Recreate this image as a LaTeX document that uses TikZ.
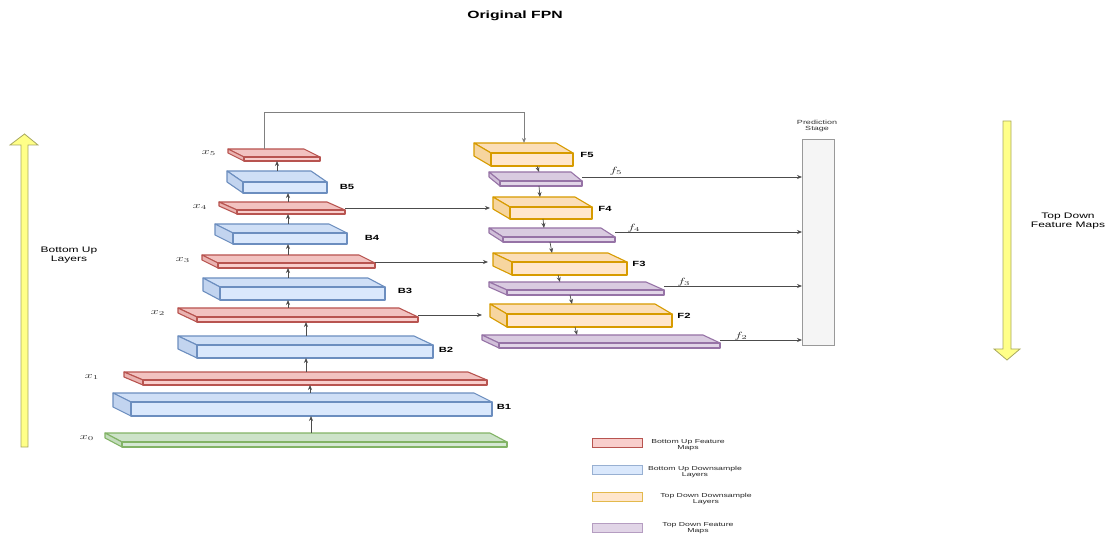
\documentclass[tikz,border=0pt]{standalone}
\usepackage{fontspec}
\setmainfont{Liberation Sans}
\newfontfamily\widesans[FakeStretch=1.5]{Liberation Sans}
\usetikzlibrary{arrows.meta,calc}

\definecolor{redF}{HTML}{F8CECC}\definecolor{redD}{HTML}{B85450}
\definecolor{bluF}{HTML}{DAE8FC}\definecolor{bluD}{HTML}{6C8EBF}
\definecolor{orgF}{HTML}{FFE6CC}\definecolor{orgD}{HTML}{D79B00}
\definecolor{purF}{HTML}{E1D5E7}\definecolor{purD}{HTML}{9673A6}
\definecolor{grnF}{HTML}{D5E8D4}\definecolor{grnD}{HTML}{82B366}
\definecolor{yelF}{HTML}{FFFF88}\definecolor{yelD}{HTML}{A8A860}

\newcommand\wmath[1]{\scalebox{1.5}[1]{$#1$}}

\tikzset{
  slabline/.style={line width=1.1pt, line join=round},
  arr/.style={draw=black!70, line width=0.7pt, -{Stealth[length=5pt,width=4pt]}},
  skip/.style={draw=black!50, line width=0.9pt, -{Stealth[length=5pt,width=4pt]}},
  blabel/.style={font=\widesans\bfseries\fontsize{7.5}{8}\selectfont},
  mlabel/.style={font=\fontsize{9}{10}\selectfont, text=black!80},
  side/.style={font=\widesans\fontsize{8}{9}\selectfont, align=center},
  legtext/.style={font=\widesans\fontsize{5.8}{6.6}\selectfont, align=center, text=black!85},
  legbox/.style={line width=0.7pt, minimum width=50pt, minimum height=9pt, inner sep=0pt, anchor=north west},
  bigarrow/.style={fill=yelF, draw=yelD, line width=0.8pt, line join=miter},
}

% \slab{name}{x left}{x right}{y top}{y bottom}{depth x}{depth y}{colour}
% front face is the named node; the top and left faces recede up-left
\newcommand\slab[8]{%
  \filldraw[slabline, draw=#8D, fill=#8F!90!#8D]
    (#2-#6,#4-#7) -- (#3-#6,#4-#7) -- (#3,#4) -- (#2,#4) -- cycle;
  \filldraw[slabline, draw=#8D, fill=#8F!78!#8D]
    (#2-#6,#4-#7) -- (#2,#4) -- (#2,#5) -- (#2-#6,#5-#7) -- cycle;
  \node[slabline, draw=#8D, fill=#8F, anchor=north west, inner sep=0pt, outer sep=0pt,
        minimum width={(#3-#2)*1pt}, minimum height={(#5-#4)*1pt}] (#1) at (#2,#4) {};
}

\begin{document}
\begin{tikzpicture}[x=1pt,y=-1pt]
\useasboundingbox (0,0) rectangle (1114,537);

\node[font=\widesans\bfseries\fontsize{10.5}{12}\selectfont] (title) at (515,16) {Original FPN};

% direction arrows
\filldraw[bigarrow] (21,447) -- (21,145) -- (10,145) -- (24.5,134) -- (38,145) -- (28,145) -- (28,447) -- cycle;
\node[side] (bulbl) at (69,255.5) {Bottom Up\\Layers};
\filldraw[bigarrow] (1003,121) -- (1003,349) -- (994,349) -- (1007,360) -- (1020,349) -- (1011,349) -- (1011,121) -- cycle;
\node[side] (tdlbl) at (1068,221.5) {Top Down\\Feature Maps};

% bottom-up pathway
\slab{x0}{122}{507}{442}{447}{17}{9}{grn}
\slab{B1}{131}{492}{402}{416}{18}{9}{blu}
\slab{x1}{143}{487}{380}{385}{19}{8}{red}
\slab{B2}{197}{433}{345}{358}{19}{9}{blu}
\slab{x2}{197}{418}{317}{322}{19}{9}{red}
\slab{B3}{220}{385}{287}{300}{17}{9}{blu}
\slab{x3}{218}{375}{263}{268}{16}{8}{red}
\slab{B4}{233}{347}{233}{244}{18}{9}{blu}
\slab{x4}{237}{345}{210}{214}{18}{8}{red}
\slab{B5}{243}{327}{182}{193}{16}{11}{blu}
\slab{x5}{244}{320}{157}{161}{16}{8}{red}

% top-down pathway
\slab{F5}{491}{573}{153}{166}{17}{10}{org}
\slab{P5}{500}{582}{181}{186}{11}{9}{pur}
\slab{F4}{510}{592}{207}{219}{17}{10}{org}
\slab{P4}{503}{615}{237}{242}{14}{9}{pur}
\slab{F3}{512}{627}{262}{275}{19}{9}{org}
\slab{P3}{507}{664}{290}{295}{18}{8}{pur}
\slab{F2}{507}{672}{314}{327}{17}{10}{org}
\slab{P2}{499}{720}{343}{348}{17}{8}{pur}

% prediction stage
\node[draw=black!40, fill=black!4, line width=0.6pt, minimum width=32pt, minimum height=206pt,
      inner sep=0pt, anchor=north west] (pred) at (802,139) {};
\node[font=\widesans\fontsize{6}{6.5}\selectfont, align=center, text=black!80] (predlbl) at (817,126) {Prediction\\Stage};

% labels
\node[mlabel] (lx5) at (209,153) {\wmath{x_5}};
\node[mlabel] (lx4) at (200,207) {\wmath{x_4}};
\node[mlabel] (lx3) at (183,260) {\wmath{x_3}};
\node[mlabel] (lx2) at (158,313) {\wmath{x_2}};
\node[mlabel] (lx1) at (92,377) {\wmath{x_1}};
\node[mlabel] (lx0) at (87,438) {\wmath{x_0}};
\node[blabel] (lB5) at (347,187) {B5};
\node[blabel] (lB4) at (372,238) {B4};
\node[blabel] (lB3) at (405,291) {B3};
\node[blabel] (lB2) at (446,350) {B2};
\node[blabel] (lB1) at (504,407) {B1};
\node[blabel] (lF5) at (587,155) {F5};
\node[blabel] (lF4) at (605,209) {F4};
\node[blabel] (lF3) at (639,264) {F3};
\node[blabel] (lF2) at (684,316) {F2};

% bottom-up arrows
\coordinate (c1) at (311,0);
\coordinate (c2) at (310,0);
\coordinate (c3) at (306,0);
\coordinate (c4) at (288,0);
\coordinate (c5) at (277,0);
\draw[arr] (x0.north -| c1) ++(0,-9) -- (B1.south -| c1);
\draw[arr] (B1.north -| c2) ++(0,-9) -- (x1.south -| c2);
\draw[arr] (x1.north -| c3) ++(0,-8) -- (B2.south -| c3);
\draw[arr] (B2.north -| c3) ++(0,-9) -- (x2.south -| c3);
\draw[arr] (x2.north -| c4) ++(0,-9) -- (B3.south -| c4);
\draw[arr] (B3.north -| c4) ++(0,-9) -- (x3.south -| c4);
\draw[arr] (x3.north -| c4) ++(0,-8) -- (B4.south -| c4);
\draw[arr] (B4.north -| c4) ++(0,-9) -- (x4.south -| c4);
\draw[arr] (x4.north -| c4) ++(0,-8) -- (B5.south -| c4);
\draw[arr] (B5.north -| c5) ++(0,-11) -- (x5.south -| c5);

% top of the bottom-up pathway feeds the top-down pathway
\draw[skip] ([shift={(20,-8)}]x5.north west) -- ++(0,-37) -| ([shift={(33,-10)}]F5.north west);

% top-down arrows
\draw[arr] ($(F5.south west)+(46,0)$) -- ($(P5.north west)+(39,-9)$);
\draw[arr] ($(P5.south west)+(39,0)$) -- ($(F4.north west)+(30,-10)$);
\draw[arr] ($(F4.south west)+(33,0)$) -- ($(P4.north west)+(41,-9)$);
\draw[arr] ($(P4.south west)+(47,0)$) -- ($(F3.north west)+(40,-9)$);
\draw[arr] ($(F3.south west)+(46,0)$) -- ($(P3.north west)+(53,-8)$);
\draw[arr] ($(P3.south west)+(63,0)$) -- ($(F2.north west)+(65,-10)$);
\draw[arr] ($(F2.south west)+(68,0)$) -- ($(P2.north west)+(78,-8)$);

% lateral connections
\draw[arr] ([yshift=2pt]x4.north east) coordinate (l4) -- ([xshift=-20pt]l4 -| F4.west);
\draw[arr] ([yshift=1pt]x3.north east) coordinate (l3) -- ([xshift=-24pt]l3 -| F3.west);
\draw[arr] ([yshift=2pt]x2.north east) coordinate (l2) -- ([xshift=-25pt]l2 -| F2.west);

% outputs to the prediction stage
\draw[arr] ([yshift=4pt]P5.north east) coordinate (o5) -- (o5 -| pred.west);
\draw[arr] ([yshift=5pt]P4.north east) coordinate (o4) -- (o4 -| pred.west);
\draw[arr] ([yshift=4pt]P3.north east) coordinate (o3) -- (o3 -| pred.west);
\draw[arr] ([yshift=3pt]P2.north east) coordinate (o2) -- (o2 -| pred.west);
\node[mlabel] (lf5) at (616,171) {\wmath{f_5}};
\node[mlabel] (lf4) at (634,228) {\wmath{f_4}};
\node[mlabel] (lf3) at (684,282) {\wmath{f_3}};
\node[mlabel] (lf2) at (741,336) {\wmath{f_2}};

% legend
\node[legbox, draw=redD, fill=redF] (kred) at (592,438) {};
\node[legtext] (tred) at (688,445) {Bottom Up Feature\\Maps};
\node[legbox, draw=bluD!70, fill=bluF] (kblu) at (592,465) {};
\node[legtext] (tblu) at (695,472) {Bottom Up Downsample\\Layers};
\node[legbox, draw=orgD!70, fill=orgF] (korg) at (592,492) {};
\node[legtext] (torg) at (706,499) {Top Down Downsample\\Layers};
\node[legbox, draw=purD!70, fill=purF] (kpur) at (592,523) {};
\node[legtext] (tpur) at (698,528) {Top Down Feature\\Maps};
\end{tikzpicture}
\end{document}
